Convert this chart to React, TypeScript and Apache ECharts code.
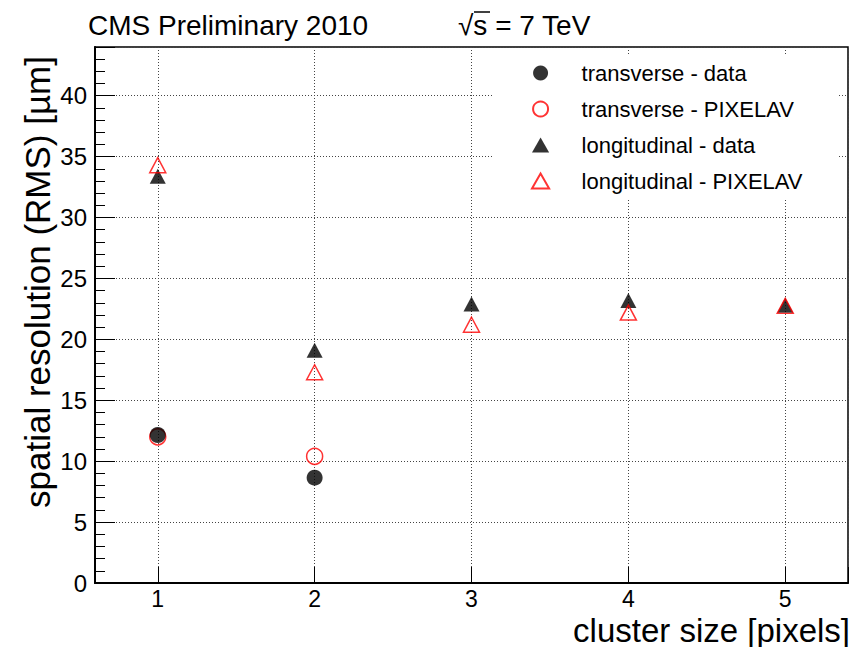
import React, { useEffect, useRef } from "react";
import * as echarts from "echarts";

const clusterSizes = [1, 2, 3, 4, 5];
const transverseData = [12.15, 8.65];
const transversePixelav = [12.0, 10.4];
const longitudinalData = [33.4, 19.1, 22.9, 23.2, 22.8];
const longitudinalPixelav = [34.3, 17.3, 21.2, 22.2, 22.75];
const seriesNames = [
  "transverse - data",
  "transverse - PIXELAV",
  "longitudinal - data",
  "longitudinal - PIXELAV",
];
const headerLeft = "CMS Preliminary 2010";
const headerRight = "√s = 7 TeV";
const yTitle = "spatial resolution (RMS) [µm]";
const xTitle = "cluster size [pixels]";

const FONT = "'Liberation Sans', Arial, Helvetica, sans-serif";
const TRI_ICON = "path://M0,14L8,0L16,14Z";

function pts(vals: number[]) {
  return vals.map((v, i) => [clusterSizes[i], v]);
}

export default function App() {
  const ref = useRef<HTMLDivElement>(null);
  useEffect(() => {
    if (!ref.current) return;
    const chart = echarts.init(ref.current, undefined, { renderer: "svg" });
    const gridLine = { show: true, lineStyle: { color: "#444", width: 1, type: [1, 2] as any } };
    chart.setOption({
      animation: false,
      backgroundColor: "#fff",
      textStyle: { fontFamily: FONT },
      grid: {
        left: 95,
        right: 9,
        top: 47,
        bottom: 64,
        show: true,
        borderColor: "#000",
        borderWidth: 1.5,
        backgroundColor: "transparent",
      },
      xAxis: {
        type: "value",
        min: 0.6,
        max: 5.4,
        splitNumber: 5,
        minInterval: 1,
        maxInterval: 1,
        axisLine: { show: true, onZero: false, lineStyle: { color: "#000", width: 2 } },
        axisTick: { show: true, inside: true, length: 16, lineStyle: { color: "#000", width: 1 } },
        axisLabel: {
          show: true,
          fontSize: 23,
          lineHeight: 18,
          color: "#000",
          fontFamily: FONT,
          margin: 7,
          formatter: (v: number) => (Math.abs(v - Math.round(v)) < 1e-6 ? String(Math.round(v)) : ""),
        },
        splitLine: gridLine,
      },
      yAxis: [
        {
          type: "value",
          min: 0,
          max: 44,
          interval: 5,
          position: "left",
          axisLine: { show: true, onZero: false, lineStyle: { color: "#000", width: 2 } },
          axisTick: { show: true, inside: true, length: 20, lineStyle: { color: "#000", width: 1 } },
          axisLabel: {
            show: true,
            fontSize: 24,
            color: "#000",
            fontFamily: FONT,
            margin: 8,
            formatter: (v: number) => (v % 5 === 0 ? String(v) : ""),
          },
          splitLine: {
            show: true,
            lineStyle: { color: "#444", width: 1, type: [1, 2] as any },
          },
        },
        {
          type: "value",
          min: 0,
          max: 44,
          interval: 1,
          position: "left",
          offset: 0,
          axisLine: { show: false },
          axisTick: { show: true, inside: true, length: 10, lineStyle: { color: "#000", width: 1 } },
          axisLabel: { show: false },
          splitLine: { show: false },
        },
      ],
      legend: {
        orient: "vertical",
        left: 493,
        top: 55,
        padding: [7, 35, 7, 38],
        itemWidth: 72,
        itemHeight: 15,
        itemGap: 14,
        symbolKeepAspect: true,
        backgroundColor: "#fff",
        data: [
          { name: seriesNames[0], icon: "circle" },
          { name: seriesNames[1], icon: "circle" },
          { name: seriesNames[2], icon: TRI_ICON },
          { name: seriesNames[3], icon: TRI_ICON },
        ],
        textStyle: { fontSize: 22, lineHeight: 22, color: "#000", fontFamily: FONT },
        z: 10,
      },
      series: [
        {
          name: seriesNames[1],
          type: "scatter",
          data: pts(transversePixelav),
          symbol: "circle",
          symbolSize: 16,
          itemStyle: { color: "rgba(255,255,255,0)", borderColor: "#ff0000", borderWidth: 1.5 },
          z: 2,
        },
        {
          name: seriesNames[0],
          type: "scatter",
          data: pts(transverseData),
          symbol: "circle",
          symbolSize: 16,
          itemStyle: { color: "#000" },
          z: 3,
        },
        {
          name: seriesNames[2],
          type: "scatter",
          data: pts(longitudinalData),
          symbol: "triangle",
          symbolSize: [16, 15],
          itemStyle: { color: "#000" },
          z: 4,
        },
        {
          name: seriesNames[3],
          type: "scatter",
          data: pts(longitudinalPixelav),
          symbol: "triangle",
          symbolSize: [16, 15],
          itemStyle: { color: "rgba(255,255,255,0)", borderColor: "#ff0000", borderWidth: 1.5 },
          z: 5,
        },
      ],
      graphic: [
        {
          type: "text",
          x: 88,
          y: 25,
          style: { text: headerLeft, font: `28px ${FONT}`, fill: "#000", textAlign: "left", textVerticalAlign: "middle" },
        },
        {
          type: "text",
          x: 458,
          y: 25,
          style: { text: headerRight, font: `28px ${FONT}`, fill: "#000", textAlign: "left", textVerticalAlign: "middle" },
        },
        {
          type: "line",
          shape: { x1: 474, y1: 12, x2: 490, y2: 12 },
          style: { stroke: "#000", lineWidth: 1.5 },
        },
        {
          type: "text",
          x: 37,
          y: 282,
          rotation: Math.PI / 2,
          style: { text: yTitle, font: `35px ${FONT}`, fill: "#000", textAlign: "center", textVerticalAlign: "middle" },
        },
        {
          type: "text",
          x: 850,
          y: 630,
          style: { text: xTitle, font: `33px ${FONT}`, fill: "#000", textAlign: "right", textVerticalAlign: "middle" },
        },
      ],
    });
    return () => chart.dispose();
  }, []);
  return <div ref={ref} style={{ width: 857, height: 647, position: "absolute", left: 0, top: 0 }} />;
}
